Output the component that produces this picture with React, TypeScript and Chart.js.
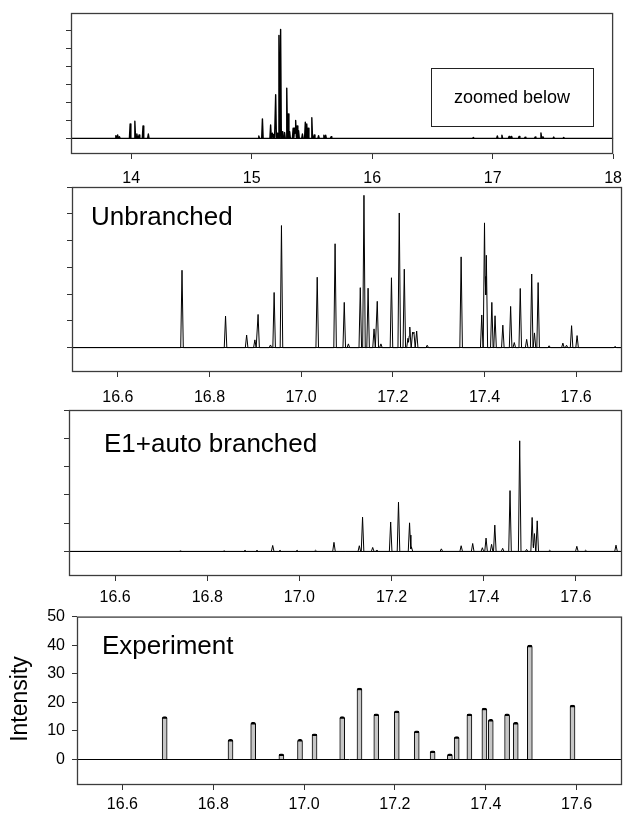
import React, { useEffect, useRef } from 'react';
import { Chart, registerables } from 'chart.js';
Chart.register(...registerables);

const FONT = '"Liberation Sans", Arial, Helvetica, sans-serif';

// ---- Overview chromatogram (top panel) ----
const overviewPos = [13.872, 13.887, 13.902, 13.991, 14.030, 14.047, 14.065, 14.098, 14.142,
  15.059, 15.089, 15.157, 15.172, 15.184, 15.199, 15.211, 15.226, 15.240, 15.252,
  15.273, 15.291, 15.303, 15.315, 15.344, 15.356, 15.365, 15.377, 15.389, 15.421,
  15.445, 15.457, 15.469, 15.499, 15.519, 15.555, 15.599, 15.614, 15.659,
  16.840, 17.039, 17.077, 17.137, 17.157, 17.220, 17.270, 17.353, 17.401, 17.418,
  17.507, 17.590];
const overviewInt = [0.15, 0.19, 0.09, 0.80, 0.95, 0.24, 0.19, 0.69, 0.24,
  0.13, 1.08, 0.74, 0.28, 0.22, 2.42, 0.28, 5.72, 6.05, 0.37,
  0.32, 2.79, 1.36, 0.37, 0.56, 0.56, 0.99, 0.69, 0.43, 0.24,
  0.89, 0.80, 0.56, 1.14, 0.19, 0.15, 0.17, 0.17, 0.09,
  0.04, 0.13, 0.17, 0.11, 0.11, 0.11, 0.06, 0.07, 0.30, 0.09,
  0.07, 0.04];

// ---- Unbranched ----
const unbranchedPos = [16.740, 16.835, 16.881, 16.899, 16.906, 16.933, 16.941, 16.957, 17.035, 17.074,
  17.094, 17.103, 17.129, 17.137, 17.146, 17.159, 17.166, 17.174, 17.197, 17.214,
  17.225, 17.233, 17.237, 17.243, 17.246, 17.252, 17.275, 17.349, 17.394, 17.400,
  17.404, 17.416, 17.423, 17.440, 17.457, 17.465, 17.478, 17.492, 17.503, 17.509,
  17.517, 17.541, 17.571, 17.579, 17.590, 17.602, 17.685];
const unbranchedInt = [2.89, 1.18, 0.47, 0.29, 1.24, 0.10, 2.06, 4.56, 2.63, 3.88,
  1.69, 0.14, 2.24, 5.69, 2.22, 0.70, 1.73, 0.14, 2.61, 5.03,
  2.93, 0.35, 0.77, 0.57, 0.58, 0.62, 0.09, 3.39, 1.22, 4.66,
  3.45, 1.69, 1.19, 0.84, 1.54, 0.19, 2.21, 0.31, 2.75, 0.55,
  2.43, 0.07, 0.17, 0.09, 0.82, 0.45, 0.05];

// ---- E1+auto branched ----
const branchedPos = [16.742, 16.837, 16.882, 16.908, 16.942, 16.958, 16.995, 17.035, 17.075, 17.130,
  17.137, 17.159, 17.168, 17.198, 17.215, 17.239, 17.243, 17.308, 17.351, 17.376,
  17.397, 17.405, 17.417, 17.424, 17.441, 17.457, 17.478, 17.493, 17.505, 17.510,
  17.516, 17.543, 17.602, 17.621, 17.687];
const branchedInt = [0.02, 0.02, 0.04, 0.04, 0.21, 0.04, 0.04, 0.04, 0.32, 0.20,
  1.21, 0.14, 0.05, 1.04, 1.74, 1.01, 0.16, 0.09, 0.20, 0.28,
  0.13, 0.47, 0.25, 0.93, 0.11, 2.15, 3.91, 0.07, 1.20, 0.63,
  1.08, 0.04, 0.18, 0.04, 0.22];

// ---- Experiment ----
const expPos = [16.693, 16.838, 16.888, 16.950, 16.991, 17.023, 17.084, 17.122, 17.159, 17.204,
  17.248, 17.283, 17.321, 17.336, 17.364, 17.397, 17.411, 17.447, 17.466, 17.497, 17.591];
const expInt = [15, 7, 13, 2, 7, 9, 15, 25, 16, 17, 10, 3, 2, 8, 16, 18, 14, 16, 13, 40, 19];

// ---- ticks ----
const overviewXTicks = [14, 15, 16, 17, 18];
const zoomXTicks = [16.6, 16.8, 17.0, 17.2, 17.4, 17.6];
const overviewYTicks = [0, 1, 2, 3, 4, 5, 6];
const unbranchedYTicks = [0, 1, 2, 3, 4, 5, 6];
const branchedYTicks = [0, 1, 2, 3, 4, 5];
const expYTicks = [0, 10, 20, 30, 40, 50];

// Build a stick spectrum (narrow triangular peaks on a zero baseline) from peak lists
function spectrum(pos: number[], ints: number[], hw: number, xmin: number, xmax: number) {
  const xs = new Set<number>([xmin, xmax]);
  pos.forEach((p) => { xs.add(+(p - hw).toFixed(5)); xs.add(p); xs.add(+(p + hw).toFixed(5)); });
  const sorted = Array.from(xs).sort((a, b) => a - b);
  return sorted.map((x) => {
    let y = 0;
    pos.forEach((p, i) => {
      const v = ints[i] * Math.max(0, 1 - Math.abs(x - p) / hw);
      if (v > y) y = v;
    });
    return { x, y };
  });
}

type TextItem = { text: string; x: number; y: number; size: number; align: CanvasTextAlign; baseline: CanvasTextBaseline; rotate?: boolean };
type Panel = {
  canvasTop: number; canvasH: number; plotLeft: number; plotTop: number; plotBottom: number;
  yMin: number; yMax: number; yTicks: number[]; yLabels: boolean;
  xMin: number; xMax: number; xTicks: number[]; xDec: number; xPad: number;
  kind: 'line' | 'bar'; pos: number[]; ints: number[]; hw: number; lw: number;
  texts: TextItem[]; box?: { x: number; y: number; w: number; h: number };
};

const PANELS: Panel[] = [
  {
    canvasTop: 0, canvasH: 196, plotLeft: 71, plotTop: 13, plotBottom: 154,
    yMin: -0.87, yMax: 6.96, yTicks: overviewYTicks, yLabels: false,
    xMin: 13.5, xMax: 18, xTicks: overviewXTicks, xDec: 0, xPad: 10,
    kind: 'line', pos: overviewPos, ints: overviewInt, hw: 0.006, lw: 1.4,
    texts: [{ text: 'zoomed below', x: 512, y: 98, size: 18, align: 'center', baseline: 'middle' }],
    box: { x: 431, y: 68, w: 162, h: 58 },
  },
  {
    canvasTop: 177, canvasH: 236, plotLeft: 72, plotTop: 187, plotBottom: 372,
    yMin: -0.91, yMax: 6.0, yTicks: unbranchedYTicks, yLabels: false,
    xMin: 16.5, xMax: 17.7, xTicks: zoomXTicks, xDec: 1, xPad: 11,
    kind: 'line', pos: unbranchedPos, ints: unbranchedInt, hw: 0.0028, lw: 1,
    texts: [{ text: 'Unbranched', x: 91, y: 225, size: 26, align: 'left', baseline: 'alphabetic' }],
  },
  {
    canvasTop: 400, canvasH: 214, plotLeft: 69, plotTop: 410, plotBottom: 576,
    yMin: -0.87, yMax: 5.0, yTicks: branchedYTicks, yLabels: false,
    xMin: 16.5, xMax: 17.7, xTicks: zoomXTicks, xDec: 1, xPad: 7,
    kind: 'line', pos: branchedPos, ints: branchedInt, hw: 0.0028, lw: 1,
    texts: [{ text: 'E1+auto branched', x: 104, y: 452, size: 26, align: 'left', baseline: 'alphabetic' }],
  },
  {
    canvasTop: 600, canvasH: 216, plotLeft: 77, plotTop: 616, plotBottom: 785,
    yMin: -8.95, yMax: 50, yTicks: expYTicks, yLabels: true,
    xMin: 16.5, xMax: 17.7, xTicks: zoomXTicks, xDec: 1, xPad: 5,
    kind: 'bar', pos: expPos, ints: expInt, hw: 0, lw: 1,
    texts: [
      { text: 'Experiment', x: 102, y: 654, size: 26, align: 'left', baseline: 'alphabetic' },
      { text: 'Intensity', x: 21, y: 699, size: 23, align: 'center', baseline: 'middle', rotate: true },
    ],
  },
];

function makeChart(canvas: HTMLCanvasElement, p: Panel) {
  const decor = {
    id: 'decor',
    afterDraw(chart: any) {
      const { ctx, chartArea } = chart;
      const { left, top, right, bottom } = chartArea;
      ctx.save();
      ctx.strokeStyle = '#3c3c3c';
      ctx.lineWidth = 1.3;
      ctx.strokeRect(left + 0.5, top + 0.5, right - left - 1, bottom - top - 1);
      if (p.box) {
        ctx.strokeStyle = '#222';
        ctx.lineWidth = 1;
        ctx.strokeRect(p.box.x + 0.5, p.box.y - p.canvasTop + 0.5, p.box.w, p.box.h);
      }
      ctx.fillStyle = '#000';
      p.texts.forEach((t) => {
        ctx.font = `${t.size}px ${FONT}`;
        ctx.textAlign = t.align;
        ctx.textBaseline = t.baseline;
        const y = t.y - p.canvasTop;
        if (t.rotate) {
          ctx.save();
          ctx.translate(t.x, y);
          ctx.rotate(-Math.PI / 2);
          ctx.fillText(t.text, 0, 0);
          ctx.restore();
        } else {
          ctx.fillText(t.text, t.x, y);
        }
      });
      ctx.restore();
    },
  };

  const dataset: any = p.kind === 'line'
    ? {
        type: 'line',
        data: spectrum(p.pos, p.ints, p.hw, p.xMin, p.xMax),
        borderColor: '#000',
        borderWidth: p.lw,
        borderJoinStyle: 'round',
        borderCapStyle: 'round',
        pointRadius: 0,
        tension: 0,
        fill: false,
      }
    : {
        type: 'bar',
        data: p.pos.map((x, i) => ({ x, y: p.ints[i] })),
        backgroundColor: '#c6c6c6',
        borderColor: '#000',
        borderWidth: { top: 2.5, left: 1, right: 1, bottom: 0 },
        borderSkipped: 'start',
        borderRadius: { topLeft: 2, topRight: 2, bottomLeft: 0, bottomRight: 0 },
        barThickness: 5,
      };

  const xAxisH = p.canvasH - (p.plotBottom - p.canvasTop);
  return new Chart(canvas, {
    type: p.kind,
    data: { datasets: [dataset] },
    options: {
      animation: false,
      responsive: false,
      maintainAspectRatio: false,
      events: [],
      layout: { padding: { top: p.plotTop - p.canvasTop, right: 10, left: 0, bottom: 0 } },
      plugins: { legend: { display: false }, tooltip: { enabled: false } },
      scales: {
        x: {
          type: 'linear',
          min: p.xMin,
          max: p.xMax,
          offset: false,
          afterBuildTicks: (s: any) => { s.ticks = p.xTicks.map((v) => ({ value: v })); },
          afterFit: (s: any) => { s.height = xAxisH; },
          grid: { drawOnChartArea: false, drawTicks: true, tickLength: 5, tickColor: '#333', offset: false },
          border: { display: false },
          ticks: {
            autoSkip: false,
            maxRotation: 0,
            padding: p.xPad,
            color: '#000',
            font: { family: FONT, size: 16 },
            callback: (v: any) => Number(v).toFixed(p.xDec),
          },
        },
        y: {
          type: 'linear',
          min: p.yMin,
          max: p.yMax,
          afterBuildTicks: (s: any) => { s.ticks = p.yTicks.map((v) => ({ value: v })); },
          afterFit: (s: any) => { s.width = p.plotLeft; },
          grid: {
            drawOnChartArea: true,
            drawTicks: true,
            tickLength: 5,
            tickColor: '#333',
            color: (c: any) => (c.tick && c.tick.value === 0 ? '#000' : 'rgba(0,0,0,0)'),
          },
          border: { display: false },
          ticks: {
            display: p.yLabels,
            padding: 7,
            color: '#000',
            font: { family: FONT, size: 16 },
            callback: (v: any) => String(v),
          },
        },
      },
    } as any,
    plugins: [decor as any],
  });
}

export default function App() {
  const r0 = useRef<HTMLCanvasElement>(null);
  const r1 = useRef<HTMLCanvasElement>(null);
  const r2 = useRef<HTMLCanvasElement>(null);
  const r3 = useRef<HTMLCanvasElement>(null);
  const refs = [r0, r1, r2, r3];

  useEffect(() => {
    const charts = PANELS.map((p, i) => makeChart(refs[i].current as HTMLCanvasElement, p));
    return () => charts.forEach((c) => c.destroy());
  }, []);

  return (
    <div style={{ position: 'absolute', left: 0, top: 0, width: 632, height: 816, background: '#fff' }}>
      {PANELS.map((p, i) => (
        <canvas
          key={i}
          ref={refs[i]}
          width={632}
          height={p.canvasH}
          style={{ position: 'absolute', left: 0, top: p.canvasTop, width: 632, height: p.canvasH }}
        />
      ))}
    </div>
  );
}
